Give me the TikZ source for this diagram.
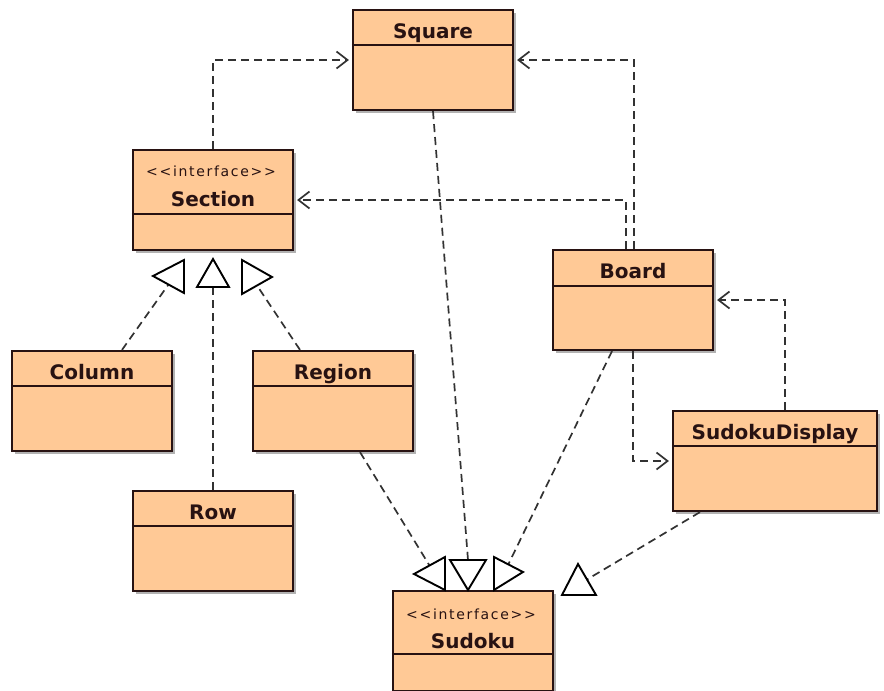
\documentclass[tikz,border=0pt]{standalone}
\usepackage{fontspec}
\usepackage{tikz}
\usetikzlibrary{arrows.meta,shadows}
\newfontfamily\titlefont{DejaVu Sans}
\newfontfamily\stereofont[LetterSpace=12]{DejaVu Sans}
\definecolor{classfill}{RGB}{255,201,150}
\definecolor{classline}{RGB}{40,18,18}
\definecolor{depline}{RGB}{50,50,50}

\begin{document}
\begin{tikzpicture}[x=1pt,y=-1pt,
    classbox/.style={draw=classline,line width=2.2pt,fill=classfill,minimum width=160pt,
      minimum height=100pt,inner sep=0pt,
      drop shadow={shadow xshift=3pt,shadow yshift=-3pt,opacity=0.3,fill=black}},
    classname/.style={anchor=base,inner sep=0pt,text=classline,
      font=\titlefont\bfseries\fontsize{20pt}{24pt}\selectfont},
    stereo/.style={anchor=base,inner sep=0pt,text=classline,
      font=\stereofont\fontsize{14pt}{17pt}\selectfont},
    uses/.style={draw=depline,line width=1.7pt,dash pattern=on 8pt off 5pt,shorten >=3pt,
      -{Straight Barb[length=11pt,width=17pt,line width=1.7pt]}},
    realize/.style={draw=depline,line width=1.7pt,dash pattern=on 8pt off 5pt},
    hollowtri/.style={draw=black,line width=1.9pt,fill=white,line join=miter}]
      \fill[white] (0,0) rectangle (884,691);
      \useasboundingbox (0,0) rectangle (884,691);
      \node[classbox] (square) at (433,60) {};
      \node[classbox] (section) at (213,200) {};
      \node[classbox] (board) at (633,300) {};
      \node[classbox] (column) at (92,401) {};
      \node[classbox] (region) at (333,401) {};
      \node[classbox] (row) at (213,541) {};
      \node[classbox,minimum width=204pt] (display) at (775,461) {};
      \node[classbox] (sudoku) at (473,641) {};
      \foreach \n/\d in {square/36pt,board/37pt,column/36pt,region/36pt,row/36pt,
          display/36pt,section/65pt,sudoku/64pt}
        \draw[classline,line width=1.6pt] ([yshift=-\d]\n.north west) -- ([yshift=-\d]\n.north east);
      \node[classname] (squaret) at ([yshift=-30pt]square.north) {Square};
      \node[classname] (boardt) at ([yshift=-30pt]board.north) {Board};
      \node[classname] (columnt) at ([yshift=-30pt]column.north) {Column};
      \node[classname] (regiont) at ([yshift=-30pt]region.north) {Region};
      \node[classname] (rowt) at ([yshift=-30pt]row.north) {Row};
      \node[classname] (displayt) at ([yshift=-30pt]display.north) {SudokuDisplay};
      \node[stereo] (sections) at ([yshift=-28pt,xshift=-2pt]section.north) {<<interface>>};
      \node[classname] (sectiont) at ([yshift=-58pt]section.north) {Section};
      \node[stereo] (sudokus) at ([yshift=-30pt,xshift=-2pt]sudoku.north) {<<interface>>};
      \node[classname] (sudokut) at ([yshift=-59pt]sudoku.north) {Sudoku};
      \coordinate (colhead) at (168.5,284.5);
      \coordinate (rowhead) at (213,287);
      \coordinate (reghead) at (257,285.5);
      \coordinate (regsud) at (429.5,565.5);
      \coordinate (sqsud) at (468,560);
      \coordinate (boardsud) at (508.5,564);
      \coordinate (dispsud) at (587,579.5);
      \draw[realize] ([xshift=30pt]column.north) -- (colhead);
      \draw[realize] (row.north) -- (rowhead);
      \draw[realize] ([xshift=-33pt]region.north) -- (reghead);
      \draw[realize] ([xshift=27pt]region.south) -- (regsud);
      \draw[realize] (square.south) -- (sqsud);
      \draw[realize] ([xshift=-21pt]board.south) -- (boardsud);
      \draw[realize] ([xshift=-75pt]display.south) -- (dispsud);
      \draw[hollowtri] (184,260) -- (153,276) -- (184,293) -- cycle;
      \draw[hollowtri] (213,259) -- (197,287) -- (229,287) -- cycle;
      \draw[hollowtri] (242,260) -- (272,277) -- (242,294) -- cycle;
      \draw[hollowtri] (445,557) -- (414,574) -- (445,590) -- cycle;
      \draw[hollowtri] (450,560) -- (486,560) -- (468,590) -- cycle;
      \draw[hollowtri] (494,557) -- (523,572) -- (494,590) -- cycle;
      \draw[hollowtri] (578,564) -- (562,595) -- (596,595) -- cycle;
      \draw[uses] (section.north) |- (square.west);
      \draw[uses] ([xshift=1pt]board.north) |- (square.east);
      \draw[uses] ([xshift=-7pt]board.north) |- (section.east);
      \draw[uses] (board.south) |- (display.west);
      \draw[uses] ([xshift=10pt]display.north) |- (board.east);
    \end{tikzpicture}
\end{document}
